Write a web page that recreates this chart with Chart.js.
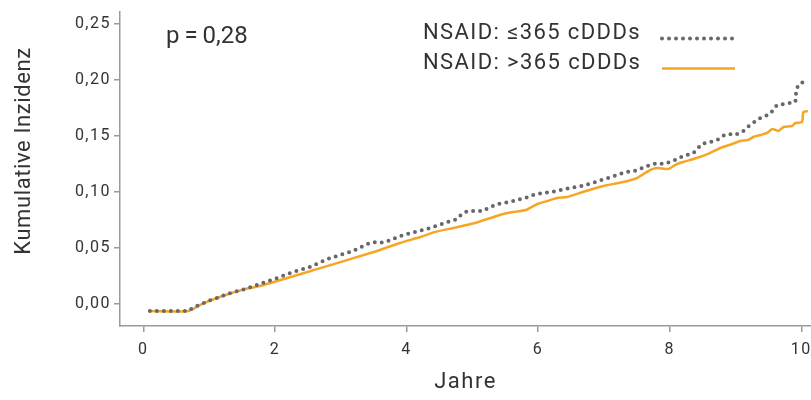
<!DOCTYPE html>
<html>
<head>
<meta charset="utf-8">
<script src="https://cdn.jsdelivr.net/npm/chart.js@4/dist/chart.umd.min.js"></script>
<style>
  html, body { margin: 0; padding: 0; background: #fff; }
  #wrap { width: 811px; height: 400px; position: relative; }
</style>
</head>
<body>
<div id="wrap"><canvas id="chart"></canvas></div>
<script>
// values
const seriesLabels = ['NSAID: \u2264365 cDDDs', 'NSAID: >365 cDDDs'];
const pValueText = 'p\u2009=\u20090,28';
const xTitle = 'Jahre';
const yTitle = 'Kumulative Inzidenz';

const xTicks = [0, 2, 4, 6, 8, 10];
const yTicks = [0, 0.05, 0.10, 0.15, 0.20, 0.25];

const lowYears = [0.10, 0.68, 0.77, 0.89, 0.98, 1.12, 1.32, 1.55, 1.77, 2.03, 2.28, 2.53, 2.80, 2.99,
    3.19, 3.40, 3.49, 3.60, 3.72, 3.90, 4.13, 4.36, 4.62, 4.77, 4.84, 4.93, 5.16, 5.24, 5.38, 5.57,
    5.68, 5.80, 5.92, 6.06, 6.29, 6.41, 6.67, 6.87, 7.06, 7.20, 7.34, 7.47, 7.58, 7.70, 7.81, 7.90,
    8.01, 8.12, 8.20, 8.36, 8.49, 8.61, 8.72, 8.80, 8.89, 8.99, 9.12, 9.22, 9.33, 9.40, 9.50, 9.56,
    9.63, 9.75, 9.91, 9.92, 9.95, 10.03, 10.10];
const lowIncidence = [-0.0063, -0.0063, -0.0027, 0.0000, 0.0027, 0.0054, 0.0098, 0.0134, 0.0179, 0.0232,
    0.0286, 0.0330, 0.0402, 0.0438, 0.0473, 0.0536, 0.0554, 0.0545, 0.0563, 0.0607, 0.0643, 0.0679,
    0.0732, 0.0759, 0.0804, 0.0830, 0.0830, 0.0857, 0.0893, 0.0911, 0.0929, 0.0946, 0.0973, 0.0991,
    0.1009, 0.1027, 0.1054, 0.1089, 0.1125, 0.1152, 0.1179, 0.1188, 0.1214, 0.1241, 0.1259, 0.1250,
    0.1268, 0.1295, 0.1321, 0.1348, 0.1429, 0.1446, 0.1464, 0.1500, 0.1518, 0.1509, 0.1545, 0.1598,
    0.1643, 0.1670, 0.1688, 0.1723, 0.1777, 0.1786, 0.1804, 0.1884, 0.1955, 0.1982, 0.2009];

const highYears = [0.10, 0.68, 0.89, 1.12, 1.55, 1.77, 2.69, 3.50, 3.90, 4.21, 4.41, 4.71, 5.04, 5.42,
    5.62, 5.81, 5.99, 6.14, 6.29, 6.44, 6.68, 6.99, 7.29, 7.50, 7.70, 7.81, 7.98, 8.08, 8.20, 8.41,
    8.61, 8.77, 8.95, 9.07, 9.19, 9.27, 9.38, 9.48, 9.56, 9.65, 9.73, 9.86, 9.91, 10.01, 10.03, 10.10];
const highIncidence = [-0.0063, -0.0063, 0.0000, 0.0054, 0.0134, 0.0161, 0.0321, 0.0464, 0.0545, 0.0598,
    0.0640, 0.0679, 0.0723, 0.0795, 0.0821, 0.0839, 0.0893, 0.0920, 0.0946, 0.0955, 0.1000, 0.1054,
    0.1089, 0.1125, 0.1196, 0.1214, 0.1205, 0.1241, 0.1268, 0.1304, 0.1348, 0.1393, 0.1429, 0.1455,
    0.1464, 0.1491, 0.1509, 0.1527, 0.1563, 0.1545, 0.1580, 0.1589, 0.1616, 0.1625, 0.1714, 0.1723];

const GRAY = '#68686c';
const ORANGE = '#f6a623';
const AXIS = '#9a9a9a';
const TEXT = '#333333';
const FONT = 'Roboto, "DejaVu Sans", sans-serif';

function toPoints(xs, ys) {
    return xs.map((x, i) => ({ x: x, y: ys[i] }));
}

function formatComma(value, digits) {
    return value.toFixed(digits).replace('.', ',');
}

// the reference type is set wider than Roboto, so spacing is opened up a bit
const spacingPlugin = {
    id: 'spacing',
    beforeDraw(chart) {
        chart.ctx.letterSpacing = '1.5px';
    },
    afterDraw(chart) {
        chart.ctx.letterSpacing = '0px';
    }
};

// legend, p value and y title are placed like in the reference
const overlayPlugin = {
    id: 'overlay',
    afterDraw(chart) {
        const ctx = chart.ctx;
        ctx.save();
        ctx.fillStyle = TEXT;
        ctx.textBaseline = 'middle';
        ctx.textAlign = 'left';

        ctx.letterSpacing = '0px';
        ctx.font = '24px ' + FONT;
        ctx.fillText(pValueText, 166, 37);

        ctx.letterSpacing = '1.4px';
        ctx.font = '22px ' + FONT;
        const rows = [33, 63];
        chart.data.datasets.forEach((ds, i) => {
            ctx.fillStyle = TEXT;
            ctx.fillText(ds.label, 423, rows[i]);
            ctx.beginPath();
            ctx.strokeStyle = ds.borderColor;
            ctx.lineWidth = ds.borderWidth;
            ctx.lineCap = ds.borderCapStyle || 'butt';
            ctx.setLineDash(ds.borderDash || []);
            ctx.moveTo(662, rows[i] + 5.5);
            ctx.lineTo(735, rows[i] + 5.5);
            ctx.stroke();
        });
        ctx.setLineDash([]);

        ctx.translate(24, 151);
        ctx.rotate(-Math.PI / 2);
        ctx.textAlign = 'center';
        ctx.fillStyle = TEXT;
        ctx.letterSpacing = '0.6px';
        ctx.font = '22px ' + FONT;
        ctx.fillText(yTitle, 0, 0);
        ctx.restore();
    }
};

new Chart(document.getElementById('chart'), {
    type: 'line',
    data: {
        datasets: [
            {
                label: seriesLabels[0],
                data: toPoints(lowYears, lowIncidence),
                borderColor: GRAY,
                borderWidth: 4,
                borderDash: [0, 7],
                borderCapStyle: 'round',
                pointRadius: 0,
                tension: 0,
                fill: false
            },
            {
                label: seriesLabels[1],
                data: toPoints(highYears, highIncidence),
                borderColor: ORANGE,
                borderWidth: 2.5,
                borderCapStyle: 'butt',
                pointRadius: 0,
                tension: 0.2,
                fill: false
            }
        ]
    },
    options: {
        responsive: true,
        maintainAspectRatio: false,
        animation: false,
        layout: { padding: { top: 12, left: 0, right: 0, bottom: 0 } },
        plugins: {
            legend: { display: false },
            tooltip: { enabled: false }
        },
        scales: {
            x: {
                type: 'linear',
                min: -0.354,
                max: 10.147,
                afterBuildTicks: scale => {
                    scale.ticks = xTicks.map(v => ({ value: v }));
                },
                afterFit: scale => {
                    scale.height = 74;
                    scale.paddingLeft = 0;
                    scale.paddingRight = 0;
                },
                border: { display: true, color: AXIS, width: 1.5 },
                grid: { display: true, drawOnChartArea: false, drawTicks: true, tickLength: 6, color: AXIS, lineWidth: 1.5 },
                ticks: {
                    color: TEXT,
                    font: { family: FONT, size: 16 },
                    padding: 8,
                    maxRotation: 0,
                    callback: v => String(v)
                },
                title: {
                    display: true,
                    text: xTitle,
                    color: TEXT,
                    font: { family: FONT, size: 22 },
                    padding: { top: 0, bottom: 4 }
                }
            },
            y: {
                type: 'linear',
                min: -0.0196,
                max: 0.2607,
                afterBuildTicks: scale => {
                    scale.ticks = yTicks.map(v => ({ value: v }));
                },
                afterFit: scale => {
                    scale.width = 120;
                    scale.paddingTop = 0;
                    scale.paddingBottom = 0;
                },
                border: { display: true, color: AXIS, width: 1.5 },
                grid: { display: true, drawOnChartArea: false, drawTicks: true, tickLength: 6, color: AXIS, lineWidth: 1.5 },
                ticks: {
                    color: TEXT,
                    font: { family: FONT, size: 16 },
                    padding: 3,
                    callback: v => formatComma(v, 2)
                }
            }
        }
    },
    plugins: [spacingPlugin, overlayPlugin]
});
</script>
</body>
</html>
